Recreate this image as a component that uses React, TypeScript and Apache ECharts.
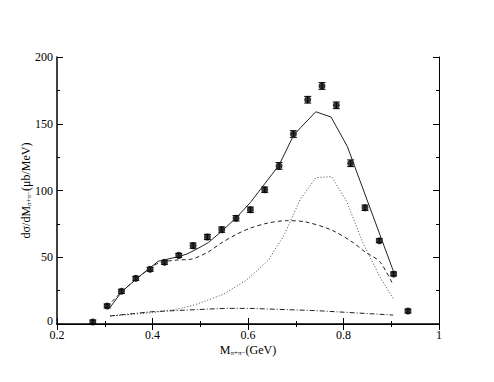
import React, { useEffect, useRef } from "react";
import * as echarts from "echarts";

// Measured data points
const dataX = [0.275, 0.305, 0.335, 0.365, 0.395, 0.425, 0.455, 0.485, 0.515, 0.545, 0.575, 0.605, 0.635, 0.665, 0.695, 0.725, 0.755, 0.785, 0.815, 0.845, 0.875, 0.905, 0.935];
const dataY = [1.5, 13.5, 24.5, 34.2, 41, 46.2, 51.4, 58.7, 65.2, 70.7, 79.2, 85.6, 100.6, 118.4, 142.3, 168, 178.3, 163.8, 120.4, 87.1, 62.4, 37.5, 9.7];
const dataErr = [1.5, 1.5, 1.5, 1.5, 1.5, 1.5, 1.5, 2, 2, 2, 2, 2, 2, 2.5, 2.5, 2.5, 2.5, 2.5, 2.5, 2, 1.5, 1.5, 1.5];

// Total (solid)
const totalX = [0.305, 0.312, 0.335, 0.367, 0.398, 0.412, 0.43, 0.454, 0.472, 0.493, 0.517, 0.545, 0.575, 0.605, 0.635, 0.665, 0.695, 0.71, 0.742, 0.774, 0.808, 0.904];
const totalY = [13, 12.8, 24, 34, 43, 47, 48.5, 50.4, 52.4, 56.2, 61, 69.5, 79.5, 91, 105, 119, 141, 147, 159, 155, 133, 40];

// Dashed component
const dashX = [0.305, 0.335, 0.367, 0.398, 0.412, 0.43, 0.454, 0.479, 0.517, 0.541, 0.575, 0.604, 0.64, 0.681, 0.72, 0.775, 0.82, 0.845, 0.876, 0.904];
const dashY = [13, 24, 34, 42.5, 45.5, 47, 48, 48.4, 54, 60, 67, 71.7, 75.5, 77.4, 76.5, 70.4, 61, 54, 46.7, 29.2];

// Dotted component
const dotX = [0.311, 0.4, 0.45, 0.485, 0.513, 0.55, 0.597, 0.625, 0.643, 0.664, 0.674, 0.709, 0.742, 0.775, 0.807, 0.841, 0.876, 0.906];
const dotY = [6, 8.5, 11, 14, 17.5, 22.5, 33, 42, 48, 60, 65.4, 93, 109.6, 110.4, 91.6, 60.4, 35.4, 18];

// Dash-dot component
const dashDotX = [0.311, 0.398, 0.517, 0.555, 0.604, 0.744, 0.904];
const dashDotY = [6, 9.2, 11.2, 11.7, 11.7, 10, 6.7];

const xMin = 0.2, xMax = 1, xInterval = 0.2;
const yMin = 0, yMax = 200, yInterval = 50;

const zip = (a: number[], b: number[]) => a.map((v, i) => [v, b[i]]);

const FONT = "Liberation Serif";

export default function App() {
  const ref = useRef<HTMLDivElement>(null);
  useEffect(() => {
    document.body.style.margin = "0";
    const chart = echarts.init(ref.current!, null, { renderer: "svg" });
    const tickCommon = {
      axisLine: { show: true, lineStyle: { color: "#000", width: 1 } },
      axisTick: { show: true, inside: true, length: 6, lineStyle: { color: "#000" } },
      minorTick: { show: true, splitNumber: 2, length: 3, lineStyle: { color: "#000" } },
      splitLine: { show: false },
    };
    const option: any = {
      animation: false,
      backgroundColor: "#fff",
      grid: { left: 57, right: 55, top: 57, bottom: 58 },
      xAxis: [
        {
          type: "value", min: xMin, max: xMax, interval: xInterval, position: "bottom",
          ...tickCommon,
          axisLine: { show: true, lineStyle: { color: "#000", width: 1.5 } },
          axisLabel: { color: "#000", fontFamily: FONT, fontSize: 12, margin: 5 },
          name: "M{sub|π+π−}(GeV)", nameLocation: "middle", nameGap: 19, nameMoveOverlap: false,
          nameTextStyle: {
            color: "#000", fontFamily: FONT, fontSize: 12,
            rich: { sub: { fontSize: 7, fontFamily: FONT, color: "#000", padding: [6, 0, 0, 0] } },
          },
        },
        {
          type: "value", min: xMin, max: xMax, interval: xInterval, position: "top",
          ...tickCommon, axisLabel: { show: false },
        },
      ],
      yAxis: [
        {
          type: "value", min: yMin, max: yMax, interval: yInterval, position: "left",
          ...tickCommon,
          axisLine: { show: true, lineStyle: { color: "#000", width: 1.5 } },
          axisLabel: {
            color: "#000", fontFamily: FONT, fontSize: 12, margin: 4,
            formatter: (v: number) => (v === 0 ? "{z|0}" : String(v)),
            rich: { z: { fontFamily: FONT, fontSize: 12, color: "#000", padding: [0, 0, 7, 0] } },
          },
          name: "dσ/dM{sub|π+π−}(μb/MeV)", nameLocation: "middle", nameGap: 25, nameMoveOverlap: false,
          nameTextStyle: {
            color: "#000", fontFamily: FONT, fontSize: 12,
            rich: { sub: { fontSize: 7, fontFamily: FONT, color: "#000", padding: [6, 0, 0, 0] } },
          },
        },
        {
          type: "value", min: yMin, max: yMax, interval: yInterval, position: "right",
          ...tickCommon, axisLabel: { show: false },
        },
      ],
      series: [
        {
          type: "line", data: zip(totalX, totalY), showSymbol: false,
          lineStyle: { color: "#222", width: 1 },
        },
        {
          type: "line", data: zip(dashX, dashY), showSymbol: false, smooth: 0.3,
          lineStyle: { color: "#222", width: 1, type: [4, 3] },
        },
        {
          type: "line", data: zip(dotX, dotY), showSymbol: false,
          lineStyle: { color: "#444", width: 1, type: [1, 2] },
        },
        {
          type: "line", data: zip(dashDotX, dashDotY), showSymbol: false,
          lineStyle: { color: "#222", width: 1, type: [5, 2, 1, 2] },
        },
        {
          type: "custom",
          data: dataX.map((x, i) => [x, dataY[i], dataErr[i]]),
          encode: { x: 0, y: 1 },
          renderItem: (params: any, api: any) => {
            const x = api.value(0), y = api.value(1), e = api.value(2);
            const t = api.coord([x, y + e]);
            const b = api.coord([x, y - e]);
            const hw = 3.5;
            const st = { stroke: "#000", lineWidth: 1 };
            return {
              type: "group",
              children: [
                { type: "line", shape: { x1: t[0], y1: t[1], x2: b[0], y2: b[1] }, style: st },
                { type: "line", shape: { x1: t[0] - hw, y1: t[1], x2: t[0] + hw, y2: t[1] }, style: st },
                { type: "line", shape: { x1: b[0] - hw, y1: b[1], x2: b[0] + hw, y2: b[1] }, style: st },
              ],
            };
          },
        },
        {
          type: "scatter", data: zip(dataX, dataY), symbol: "circle", symbolSize: 7,
          itemStyle: { color: "#000" },
        },
      ],
    };
    chart.setOption(option);
    return () => chart.dispose();
  }, []);
  return <div ref={ref} style={{ width: 494, height: 382, position: "absolute", left: 0, top: 0 }} />;
}
